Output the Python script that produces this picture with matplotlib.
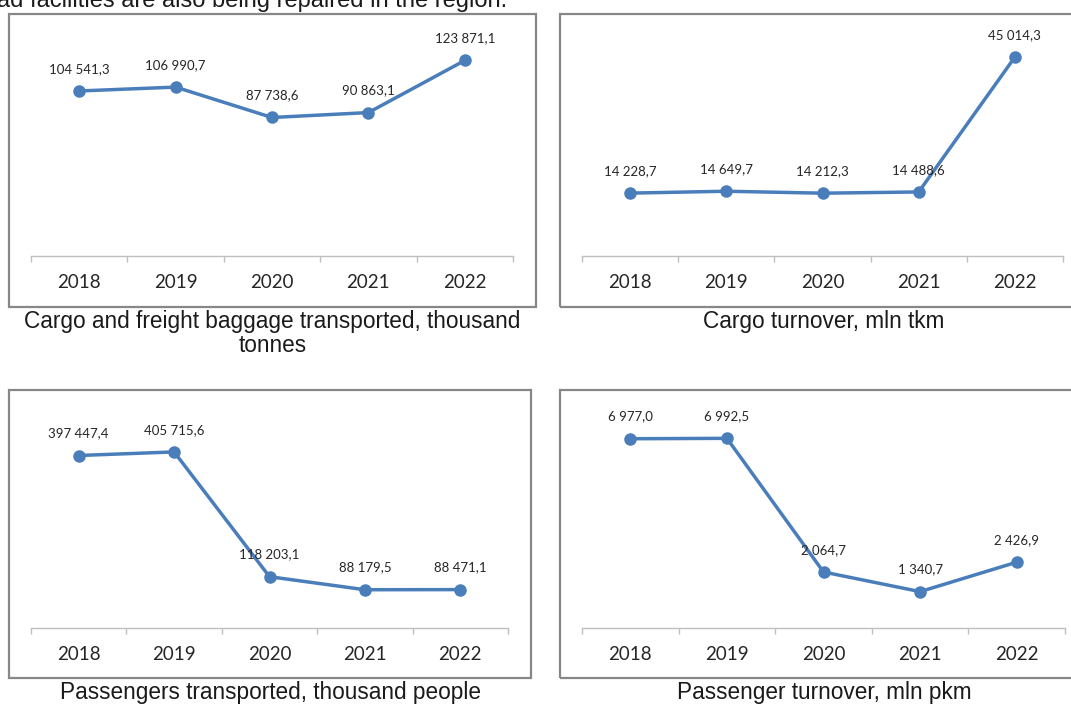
import matplotlib
matplotlib.use('Agg')
import matplotlib.pyplot as plt
from matplotlib.patches import Rectangle

# data
years = ['2018', '2019', '2020', '2021', '2022']
cargo_tonnes = [104541.3, 106990.7, 87738.6, 90863.1, 123871.1]
cargo_turnover = [14228.7, 14649.7, 14212.3, 14488.6, 45014.3]
passengers = [397447.4, 405715.6, 118203.1, 88179.5, 88471.1]
passenger_turnover = [6977.0, 6992.5, 2064.7, 1340.7, 2426.9]

titles = ['Cargo and freight baggage transported, thousand\ntonnes',
          'Cargo turnover, mln tkm',
          'Passengers transported, thousand people',
          'Passenger turnover, mln pkm']
ymax = [140000, 50000, 500000, 8000]

W, H = 1071, 707
fig = plt.figure(figsize=(W / 100, H / 100), dpi=100)

LINE = '#4a7ebb'
BOX = '#878787'
AXIS = '#bfbfbf'
TXT = '#262626'


def fmt(v):
    s = '{:,.1f}'.format(v)
    return s.replace(',', ' ').replace('.', ',')


def px_rect(x0, y0, x1, y1):
    """pixel box (top-left origin) -> figure fraction [l, b, w, h]"""
    return [x0 / W, 1 - y1 / H, (x1 - x0) / W, (y1 - y0) / H]


def panel(box, plot, values, top, title, title_y):
    l, b, w, h = px_rect(*box)
    fig.patches.append(Rectangle((l, b), w, h, transform=fig.transFigure,
                                 fill=False, edgecolor=BOX, linewidth=1.6))
    ax = fig.add_axes(px_rect(*plot))
    x = range(len(values))
    ax.plot(x, values, color=LINE, linewidth=2.5, marker='o', markersize=8,
            clip_on=False, zorder=3)
    for xi, v in zip(x, values):
        ax.annotate(fmt(v), (xi, v), xytext=(0, 16), textcoords='offset points',
                    ha='center', va='center', fontsize=9.5, color=TXT,
                    family='Lato')
    ax.set_xlim(-0.5, len(values) - 0.5)
    ax.set_ylim(0, top)
    ax.set_yticks([])
    for s in ['top', 'left', 'right']:
        ax.spines[s].set_visible(False)
    ax.spines['bottom'].set_color(AXIS)
    ax.spines['bottom'].set_linewidth(1.0)
    ax.set_xticks(list(x))
    ax.set_xticklabels(years, fontsize=13.5, color=TXT, family='Lato')
    ax.set_xticks([i - 0.5 for i in range(len(values) + 1)], minor=True)
    ax.tick_params(axis='x', which='major', length=0, pad=13)
    ax.tick_params(axis='x', which='minor', length=4.5, color=AXIS, width=1.0)
    ax.patch.set_alpha(0)
    cx = (box[0] + box[2]) / 2
    fig.text(cx / W, 1 - title_y / H, title, ha='center', va='top',
             fontsize=16.3, family='Liberation Sans', color='#1a1a1a',
             linespacing=1.05)


panel((9, 14, 536, 307), (31, 35, 513, 256), cargo_tonnes, ymax[0], titles[0], 310)
panel((560, 14, 1088, 307), (582, 35, 1063, 256), cargo_turnover, ymax[1], titles[1], 310)
panel((9, 390, 531, 678), (31, 411, 508, 628), passengers, ymax[2], titles[2], 681)
panel((560, 390, 1088, 678), (582, 411, 1065, 628), passenger_turnover, ymax[3], titles[3], 681)

# body text of the page above the charts, cut by the top edge as in the source
fig.text(-3 / W, 1 - 1 / H, 'ad facilities are also being repaired in the region.',
         ha='left', va='center', fontsize=17, family='Liberation Sans',
         color='#1a1a1a')

fig.savefig('out.png', dpi=100)
